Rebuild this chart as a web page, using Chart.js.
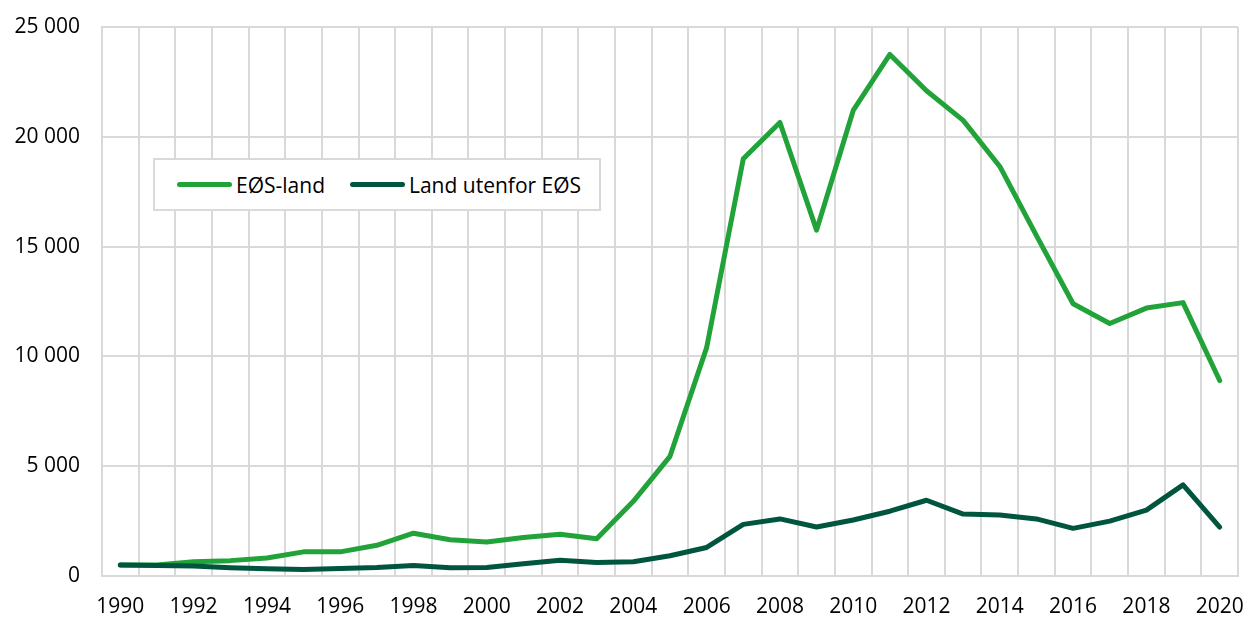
<!DOCTYPE html>
<html>
<head>
<meta charset="utf-8">
<script src="https://cdn.jsdelivr.net/npm/chart.js@4/dist/chart.umd.min.js"></script>
<style>
  html, body { margin: 0; padding: 0; background: #fff; overflow: hidden; }
  #wrap { position: relative; width: 1244px; height: 617px; }
  #c { display: block; }
  #legend {
    position: absolute; left: 153px; top: 158px; width: 444px; height: 49px;
    border: 2px solid #d9d9d9; background: #fff;
    display: flex; align-items: center; box-sizing: content-box;
    font-family: "Open Sans", sans-serif; font-size: 21px; color: #000;
  }
  .item { display: flex; align-items: center; margin-left: 22px; }
  .item + .item { margin-left: 25px; }
  .swatch { width: 55px; height: 5px; border-radius: 3px; margin-right: 4px; }
</style>
</head>
<body>
<div id="wrap">
  <canvas id="c"></canvas>
  <div id="legend"></div>
</div>
<script>
const years = ['1990','1991','1992','1993','1994','1995','1996','1997','1998','1999','2000','2001','2002','2003','2004','2005','2006','2007','2008','2009','2010','2011','2012','2013','2014','2015','2016','2017','2018','2019','2020'];
const eosLand = [500,500,650,700,820,1100,1100,1400,1950,1650,1550,1750,1900,1700,3400,5450,10400,19000,20650,15750,21200,23750,22100,20750,18650,15500,12400,11500,12200,12450,8900];
const utenforEos = [500,480,450,380,330,300,340,390,480,380,390,560,720,620,650,920,1300,2350,2600,2230,2550,2950,3450,2820,2780,2600,2170,2500,3000,4150,2230];
const seriesNames = ['EØS-land','Land utenfor EØS'];
const seriesColors = ['#22a33a','#00553f'];
const yTicks = [0,5000,10000,15000,20000,25000];

const fmt = v => String(v).replace(/\B(?=(\d{3})+(?!\d))/g, ' ');
const font = { family: '"Open Sans", sans-serif', size: 21 };

const chart = new Chart(document.getElementById('c'), {
  type: 'line',
  data: {
    labels: years,
    datasets: [
      { label: seriesNames[0], data: eosLand, borderColor: seriesColors[0], backgroundColor: seriesColors[0], order: 1 },
      { label: seriesNames[1], data: utenforEos, borderColor: seriesColors[1], backgroundColor: seriesColors[1], order: 0 }
    ]
  },
  options: {
    responsive: true,
    maintainAspectRatio: false,
    animation: false,
    devicePixelRatio: 1,
    layout: { padding: { top: 27, right: 6, bottom: 0, left: 0 } },
    elements: {
      line: { borderWidth: 5, tension: 0, borderCapStyle: 'round', borderJoinStyle: 'round' },
      point: { radius: 0, hoverRadius: 0 }
    },
    plugins: { legend: { display: false }, tooltip: { enabled: false } },
    scales: {
      x: {
        type: 'category',
        offset: true,
        grid: { offset: true, color: '#d9d9d9', lineWidth: 2, drawTicks: true, tickLength: 18, tickColor: 'rgba(0,0,0,0)' },
        border: { color: '#d9d9d9', width: 2 },
        ticks: {
          autoSkip: false, maxRotation: 0, minRotation: 0, padding: 0,
          color: '#000', font: font,
          callback: (v, i) => (i % 2 === 0 ? years[i] : '')
        },
        afterFit: s => { s.height = 41; }
      },
      y: {
        min: 0, max: 25000,
        afterBuildTicks: s => { s.ticks = yTicks.map(v => ({ value: v })); },
        grid: { color: '#d9d9d9', lineWidth: 2, drawTicks: true, tickLength: 22, tickColor: 'rgba(0,0,0,0)' },
        border: { color: '#d9d9d9', width: 2 },
        ticks: { padding: 0, color: '#000', font: font, callback: v => fmt(v) },
        afterFit: s => { s.width = 102; }
      }
    }
  }
});

const leg = document.getElementById('legend');
chart.data.datasets.forEach(ds => {
  const it = document.createElement('div');
  it.className = 'item';
  const sw = document.createElement('span');
  sw.className = 'swatch';
  sw.style.background = ds.borderColor;
  const tx = document.createElement('span');
  tx.textContent = ds.label;
  it.appendChild(sw); it.appendChild(tx);
  leg.appendChild(it);
});
</script>
</body>
</html>
